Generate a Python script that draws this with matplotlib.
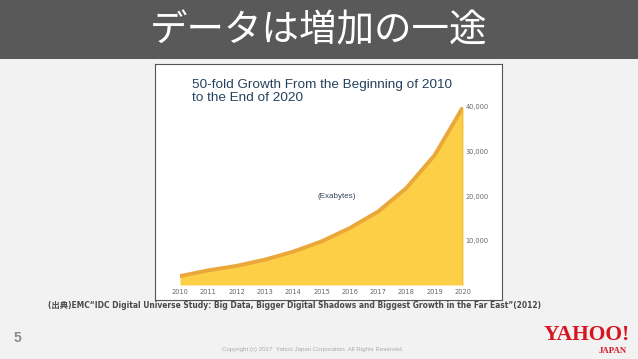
import matplotlib.pyplot as plt
from matplotlib.patches import Rectangle

# data (Exabytes)
years = [2010, 2011, 2012, 2013, 2014, 2015, 2016, 2017, 2018, 2019, 2020]
exabytes = [2000, 3300, 4300, 5700, 7500, 9800, 12800, 16500, 21800, 29200, 40000]
y_ticks = [10000, 20000, 30000, 40000]
y_labels = ["10,000", "20,000", "30,000", "40,000"]

slide_title = "データは増加の一途"
chart_title = "50-fold Growth From the Beginning of 2010\nto the End of 2020"
source = "(出典)EMC\u201cIDC Digital Universe Study: Big Data, Bigger Digital Shadows and Biggest Growth in the Far East\u201d(2012)"
copyright_txt = "Copyright (c) 2017  Yahoo Japan Corporation. All Rights Reserved."

W, H = 638, 359


def fx(px):
    return px / W


def fy(py):
    return 1 - py / H


fig = plt.figure(figsize=(6.38, 3.59), dpi=100, facecolor="#f2f2f2")

# header band
fig.patches.append(Rectangle((0, fy(59)), 1, 59 / H, transform=fig.transFigure,
                             facecolor="#595959", edgecolor="none", zorder=0))
fig.text(0.5, fy(31), slide_title, color="white", fontsize=27,
         family=["Noto Sans CJK JP", "DejaVu Sans"], ha="center", va="center")

# white picture box
box = fig.add_axes([fx(155), fy(300), fx(502) - fx(155), (300 - 64) / H])
box.set_facecolor("white")
box.set_xticks([])
box.set_yticks([])
for s in box.spines.values():
    s.set_color("#555555")
    s.set_linewidth(0.8)

fig.text(fx(192), fy(101), chart_title, color="#26415e", fontsize=9.7,
         family="Liberation Sans", ha="left", va="baseline", linespacing=1.1)

# chart area
ax = fig.add_axes([fx(180), fy(285), fx(463) - fx(180), (285 - 107) / H])
ax.set_facecolor("none")
ax.fill_between(years, 0, exabytes, color="#fccf47", lw=0, zorder=1)
ax.plot(years, exabytes, color="#eaa83a", lw=2.8, solid_capstyle="round", zorder=2)
ax.plot([years[-1], years[-1]], [0, exabytes[-1]], color="#f0b840", lw=1.2, zorder=2)
ax.set_xlim(years[0], years[-1])
ax.set_ylim(0, 40000)
for s in ax.spines.values():
    s.set_visible(False)
ax.yaxis.tick_right()
ax.set_yticks(y_ticks)
ax.set_yticklabels(y_labels)
ax.set_xticks(years)
ax.set_xticklabels([str(y) for y in years])
ax.tick_params(axis="both", length=0, labelsize=4.8, labelcolor="#666666")
ax.tick_params(axis="y", pad=2)
ax.tick_params(axis="x", pad=3)
ax.text(2015.55, 20000, "(Exabytes)", color="#34455f", fontsize=5.8,
        family="Liberation Sans", ha="center", va="center")

# source line
fig.text(fx(48), fy(306), source, color="#4a4a4a", fontsize=6.0, fontweight="bold",
         fontstretch="condensed", family=["DejaVu Sans", "Noto Sans CJK JP"],
         ha="left", va="center")

# footer
fig.text(fx(17), fy(338), "5", color="#8c8c8c", fontsize=10, fontweight="bold",
         family="Liberation Sans", ha="center", va="center")
fig.text(fx(313), fy(350), copyright_txt, color="#aaaaaa", fontsize=4.4,
         family="Liberation Sans", ha="center", va="center")
fig.text(fx(630), fy(340), "YAHOO!", color="#d7141f", fontsize=15.5, fontweight="bold",
         family="Liberation Serif", ha="right", va="baseline")
fig.text(fx(627), fy(353), "JAPAN", color="#d7141f", fontsize=6.3, fontweight="bold",
         family="Liberation Serif", ha="right", va="baseline")

fig.savefig("out.png", dpi=100, facecolor=fig.get_facecolor())
